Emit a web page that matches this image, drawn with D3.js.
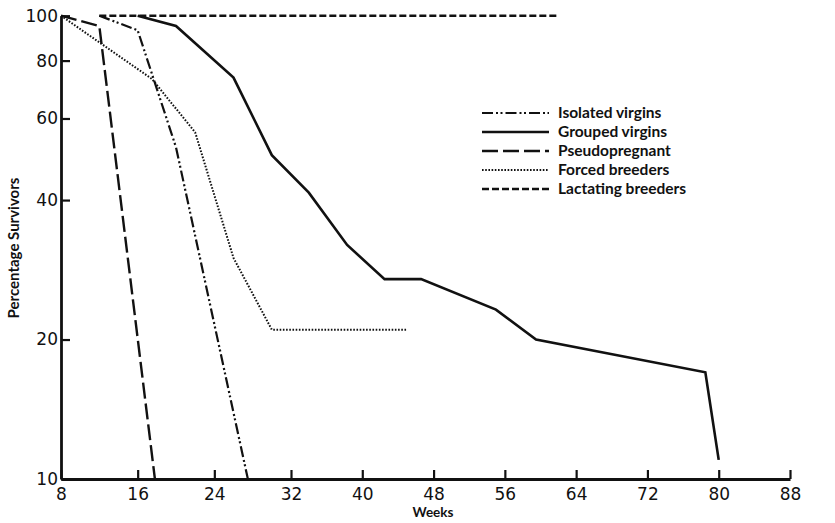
<!DOCTYPE html>
<html>
<head>
<meta charset="utf-8">
<script src="https://cdn.jsdelivr.net/npm/d3@7"></script>
<style>
  body { margin: 0; background: #fff; }
  svg { display: block; }
</style>
</head>
<body>
<div id="chart"></div>
<script>
// Survival curves, percentage survivors (log axis) against age in weeks

const weekTicks = [8, 16, 24, 32, 40, 48, 56, 64, 72, 80, 88];
const pctTicks = [10, 20, 40, 60, 80, 100];

const seriesNames = ["Isolated virgins", "Grouped virgins", "Pseudopregnant", "Forced breeders", "Lactating breeders"];

const isolatedWeeks = [12, 16, 20, 27.5];
const isolatedPct = [100, 93, 52, 10];

const groupedWeeks = [16, 20, 26, 30, 34, 38.3, 42.5, 46.6, 55, 59.5, 78.5, 80];
const groupedPct = [100, 95, 73.5, 50, 41.5, 32, 27, 27, 23.2, 20, 17, 11];

const pseudoWeeks = [8, 12, 17.8];
const pseudoPct = [100, 95, 10];

const forcedWeeks = [8, 17.5, 22, 26, 30, 45];
const forcedPct = [100, 73, 56, 30, 21, 21];

const lactatingWeeks = [12, 62];
const lactatingPct = [100, 100];

const W = 835, H = 523;
const plotLeft = 61, plotRight = 790, plotTop = 15.7, plotBottom = 479;

var svg = d3.select("#chart").append("svg")
    .attr("width", W)
    .attr("height", H);

// the printed week axis is uneven: 8-32 is spaced wider than 32-88
var x = d3.scaleLinear().domain([8, 32, 88]).range([plotLeft, 291, plotRight]);
var y = d3.scaleLog().domain([10, 100]).range([plotBottom, plotTop]);

// line styles per series
var styles = [
    {dash: "11,3,2,2.5,2,3", width: 2.2},
    {dash: null, width: 2.6},
    {dash: "16,5", width: 2.4},
    {dash: "1.6,1.6", width: 2},
    {dash: "7,3", width: 2.6}
];

var series = [
    {weeks: isolatedWeeks, pct: isolatedPct},
    {weeks: groupedWeeks, pct: groupedPct},
    {weeks: pseudoWeeks, pct: pseudoPct},
    {weeks: forcedWeeks, pct: forcedPct},
    {weeks: lactatingWeeks, pct: lactatingPct}
].map(function(s, i) {
    return {name: seriesNames[i], style: styles[i],
        points: s.weeks.map(function(w, j) { return [w, s.pct[j]]; })};
});

var line = d3.line()
    .x(function(d) { return x(d[0]); })
    .y(function(d) { return y(d[1]); });

// Axes
svg.append("g")
    .attr("transform", "translate(" + plotLeft + ",0)")
    .call(d3.axisLeft(y).tickValues(pctTicks).tickFormat(d3.format("d"))
        .tickSizeInner(-9).tickSizeOuter(0).tickPadding(3));

svg.append("g")
    .attr("transform", "translate(0," + plotBottom + ")")
    .call(d3.axisBottom(x).tickValues(weekTicks)
        .tickSizeInner(-9).tickSizeOuter(0).tickPadding(9));

svg.selectAll(".domain").attr("stroke", "#111").attr("stroke-width", 2.8);
svg.selectAll(".tick line").attr("stroke", "#111").attr("stroke-width", 2.2);
svg.selectAll(".tick text")
    .attr("fill", "#111")
    .style("font-family", "DejaVu Sans")
    .style("font-size", "17px");

// Axis titles
svg.append("text")
    .attr("x", 433)
    .attr("y", 517)
    .attr("text-anchor", "middle")
    .style("font-family", "Lato")
    .style("font-weight", "bold")
    .style("font-size", "13.5px")
    .attr("fill", "#111")
    .text("Weeks");

svg.append("text")
    .attr("transform", "translate(19,248) rotate(-90)")
    .attr("text-anchor", "middle")
    .style("font-family", "Lato")
    .style("font-weight", "bold")
    .style("font-size", "15px")
    .attr("fill", "#111")
    .text("Percentage Survivors");

// Curves
svg.selectAll(".curve")
    .data(series)
    .enter()
    .append("path")
    .attr("class", "curve")
    .attr("d", function(d) { return line(d.points); })
    .attr("fill", "none")
    .attr("stroke", "#111")
    .attr("stroke-width", function(d) { return d.style.width; })
    .attr("stroke-dasharray", function(d) { return d.style.dash; });

// Legend
var rows = svg.append("g").selectAll(".row")
    .data(series)
    .enter()
    .append("g")
    .attr("transform", function(d, i) { return "translate(0," + (113 + i * 19) + ")"; });

rows.append("line")
    .attr("x1", 482)
    .attr("x2", 549)
    .attr("stroke", "#111")
    .attr("stroke-width", function(d) { return d.style.width; })
    .attr("stroke-dasharray", function(d) { return d.style.dash; });

rows.append("text")
    .attr("x", 558)
    .attr("dy", "0.35em")
    .style("font-family", "Lato")
    .style("font-weight", "bold")
    .style("font-size", "15.5px")
    .attr("fill", "#111")
    .text(function(d) { return d.name; });
</script>
</body>
</html>
